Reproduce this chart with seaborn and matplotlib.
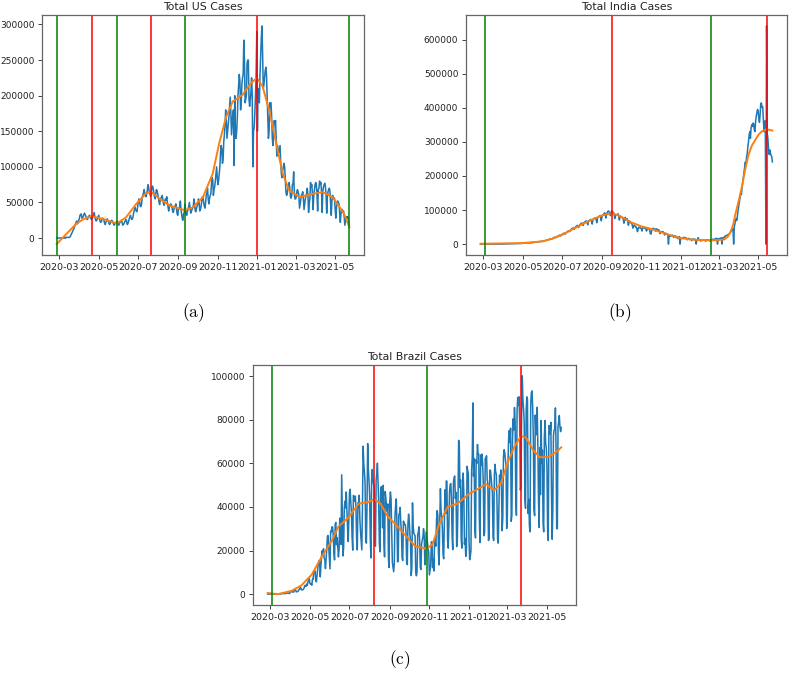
import numpy as np
import pandas as pd
import matplotlib
matplotlib.use('Agg')
import matplotlib.pyplot as plt
import seaborn as sns

start_date = '2020-02-26'

# daily new cases (thousands), one row per week starting Wednesday
us_weeks = [
    [0, 0, 0, 0, 0, 0, 0], [0, 0, 0, 0, 0, 0, 1], [0, 1, 1, 1, 1, 1, 1],
    [2, 4, 6, 8, 10, 12, 14], [17, 19, 22, 24, 20, 21, 25], [27, 32, 33, 34, 28, 29, 30],
    [33, 35, 33, 31, 28, 26, 27], [30, 31, 32, 29, 27, 26, 28], [30, 33, 36, 30, 26, 24, 25],
    [28, 30, 32, 27, 24, 22, 23], [26, 28, 27, 25, 21, 19, 22], [25, 27, 25, 23, 20, 19, 21],
    [24, 25, 24, 22, 19, 18, 20], [21, 22, 24, 23, 19, 18, 21], [22, 23, 25, 22, 18, 19, 20],
    [23, 24, 26, 24, 19, 20, 23], [27, 29, 32, 28, 26, 27, 30], [36, 39, 43, 40, 38, 37, 44],
    [50, 55, 52, 45, 44, 47, 56], [60, 63, 68, 63, 60, 58, 62], [67, 75, 72, 65, 62, 59, 63],
    [70, 73, 70, 64, 58, 55, 62], [68, 67, 62, 58, 51, 47, 53], [56, 58, 60, 54, 48, 46, 52],
    [55, 53, 58, 50, 44, 38, 44], [46, 48, 47, 44, 38, 36, 40], [44, 45, 48, 42, 34, 32, 40],
    [42, 44, 52, 40, 33, 27, 25], [34, 36, 48, 40, 33, 32, 38], [40, 45, 50, 43, 35, 37, 40],
    [42, 45, 55, 48, 38, 37, 42], [45, 48, 55, 50, 38, 40, 44], [52, 58, 58, 50, 45, 42, 50],
    [60, 64, 70, 55, 48, 55, 60], [62, 75, 85, 82, 60, 68, 72], [80, 90, 100, 85, 75, 80, 90],
    [100, 120, 130, 125, 105, 110, 135], [145, 160, 180, 165, 140, 150, 160],
    [170, 185, 198, 175, 145, 160, 175], [180, 102, 200, 150, 140, 150, 170],
    [200, 215, 230, 220, 180, 190, 215], [225, 230, 278, 250, 190, 195, 200],
    [245, 250, 250, 195, 185, 195, 205], [225, 200, 100, 150, 155, 175, 200],
    [230, 290, 150, 210, 200, 190, 230], [255, 280, 298, 260, 210, 215, 225],
    [235, 240, 230, 200, 175, 140, 150], [190, 190, 190, 170, 140, 130, 150],
    [165, 160, 165, 140, 115, 130, 120], [120, 125, 130, 105, 90, 85, 95],
    [100, 105, 100, 85, 65, 60, 62], [70, 72, 78, 70, 58, 56, 60], [75, 77, 93, 62, 55, 55, 58],
    [66, 68, 64, 60, 42, 48, 55], [60, 62, 65, 55, 40, 48, 55], [60, 62, 70, 60, 36, 48, 55],
    [78, 72, 75, 60, 40, 60, 68], [75, 78, 75, 60, 38, 68, 70], [80, 76, 78, 65, 36, 66, 72],
    [75, 77, 72, 60, 35, 58, 65], [68, 70, 66, 50, 32, 52, 60], [58, 55, 56, 42, 28, 42, 50],
    [52, 50, 48, 35, 22, 34, 40], [40, 36, 38, 30, 18, 24, 30], [30, 28, 30, 22, 18],
]

india_weeks = [
    [0, 0, 0, 0, 0, 0, 0], [0, 0, 0, 0, 0, 0, 0], [0, 0, 0, 0, 0, 0, 0], [0, 0, 0, 0, 0, 0, 0],
    [0, 0, 0, 0.1, 0.1, 0.2, 0.2], [0.4, 0.4, 0.5, 0.6, 0.5, 0.7, 0.5],
    [0.8, 0.9, 0.9, 1.0, 0.9, 1.2, 1.1], [1.1, 1.0, 1.2, 1.3, 1.4, 1.5, 1.4],
    [1.5, 1.6, 1.7, 1.8, 1.9, 1.6, 1.8], [1.9, 2.0, 2.3, 2.4, 2.6, 3.0, 3.9],
    [3.5, 3.4, 3.3, 3.3, 4.2, 3.6, 3.5], [3.7, 3.9, 3.9, 4.9, 5.0, 5.2, 4.9],
    [5.7, 6.0, 6.5, 6.7, 6.9, 6.5, 6.4], [7.1, 7.4, 8.0, 8.4, 8.8, 8.0, 8.2],
    [9.3, 9.8, 10.2, 10.9, 11.3, 11.0, 11.5], [12.9, 13.3, 14.5, 15.0, 15.4, 14.2, 15.9],
    [16.8, 18.4, 19.5, 20.0, 20.2, 19.1, 20.8], [22.4, 23.6, 24.8, 26.1, 25.5, 24.0, 26.6],
    [28.1, 29.4, 30.5, 32.1, 31.8, 29.2, 32.4], [34.0, 35.6, 37.1, 38.9, 39.2, 36.5, 40.0],
    [42.6, 44.5, 45.8, 47.2, 46.8, 43.1, 48.3], [50.1, 52.3, 53.6, 54.9, 53.5, 49.0, 55.4],
    [57.2, 58.7, 60.9, 62.0, 60.5, 54.8, 62.3], [64.1, 65.8, 66.9, 68.1, 64.3, 56.6, 67.0],
    [69.3, 70.2, 71.6, 72.4, 66.9, 58.8, 70.9], [74.2, 75.3, 76.8, 77.4, 71.5, 62.7, 74.8],
    [78.2, 80.1, 82.5, 83.6, 78.9, 68.4, 79.7], [84.9, 86.2, 88.3, 91.7, 89.2, 76.3, 87.5],
    [92.3, 95.2, 97.6, 94.4, 93.1, 83.8, 90.1], [97.9, 96.4, 93.3, 92.6, 86.9, 75.1, 83.3],
    [86.5, 86.1, 85.4, 89.0, 82.2, 70.6, 80.5], [81.8, 79.5, 78.5, 75.8, 74.4, 61.3, 72.0],
    [78.5, 70.5, 73.3, 74.4, 66.7, 55.3, 63.5], [67.7, 63.4, 62.2, 61.9, 55.7, 46.8, 54.0],
    [55.8, 53.4, 50.1, 50.1, 45.1, 36.5, 43.9], [49.9, 48.6, 48.3, 46.9, 45.2, 38.3, 46.2],
    [50.2, 47.6, 50.4, 45.7, 45.9, 38.1, 44.3], [47.9, 44.9, 44.7, 41.1, 30.5, 29.2, 38.6],
    [45.6, 45.9, 46.2, 45.2, 44.1, 37.9, 44.4], [44.5, 43.1, 41.3, 41.8, 38.8, 31.1, 36.6],
    [35.6, 36.6, 36.7, 36.0, 32.9, 26.6, 32.1], [31.5, 30.0, 30.2, 27.1, 0, 22.1, 26.4],
    [24.0, 22.9, 25.1, 26.6, 24.3, 19.6, 23.9], [24.7, 23.1, 18.7, 22.3, 19.0, 16.1, 20.5],
    [21.8, 0, 19.1, 18.2, 16.5, 16.4, 18.1], [20.3, 18.1, 18.2, 18.6, 16.3, 12.6, 15.9],
    [16.9, 15.6, 15.2, 15.1, 13.8, 10.1, 13.8], [15.2, 14.5, 14.3, 14.3, 13.2, 0, 12.7],
    [11.7, 18.9, 13.1, 13.0, 11.4, 8.6, 11.0], [12.9, 12.4, 12.1, 11.7, 12.1, 9.1, 9.1],
    [12.9, 11.0, 12.2, 12.1, 11.6, 9.1, 11.6], [12.9, 13.2, 14.0, 13.9, 14.3, 10.6, 13.7],
    [16.7, 16.6, 16.5, 0, 15.5, 12.3, 15.0], [17.4, 16.8, 18.3, 0, 18.6, 15.4, 17.9],
    [22.9, 23.3, 24.9, 25.3, 26.3, 24.5, 28.9], [30, 32, 35, 38, 42, 40, 45],
    [0, 50, 60, 68, 75, 70, 85], [100, 112, 125, 138, 150, 145, 165],
    [180, 195, 210, 225, 240, 230, 255], [265, 285, 300, 320, 330, 310, 340],
    [350, 345, 355, 352, 335, 330, 360], [375, 385, 395, 390, 368, 357, 380],
    [412, 414, 401, 403, 366, 330, 348], [362, 0, 640, 326, 311, 281, 263],
    [276, 267, 260, 257, 241],
]

brazil_weeks = [
    [0, 0, 0, 0, 0, 0, 0], [0, 0, 0, 0, 0, 0, 0], [0, 0, 0, 0.1, 0.1, 0.1, 0.1],
    [0.1, 0.2, 0.3, 0.2, 0.2, 0.3, 0.3], [0.2, 0.5, 0.4, 0.5, 0.4, 0.3, 0.3],
    [1.1, 1.1, 1.1, 1.2, 0.9, 0.9, 1.7], [2.2, 1.9, 1.0, 1.1, 1.2, 1.3, 2.0],
    [2.1, 3.1, 2.9, 2.0, 1.9, 1.9, 2.3], [2.7, 3.8, 4.0, 3.5, 4.6, 4.0, 5.4],
    [6.3, 7.2, 5.0, 4.6, 4.7, 4.1, 6.8], [6.8, 10.5, 10.2, 10.6, 6.6, 5.6, 8.6],
    [11.4, 13.9, 15.3, 14.9, 7.9, 13.1, 17.4], [19.9, 18.5, 20.8, 16.5, 15.8, 11.7, 16.3],
    [20.6, 26.4, 26.9, 21.7, 16.4, 11.6, 28.9], [28.6, 30.9, 30.8, 27.1, 18.9, 15.7, 32.1],
    [32.9, 22.7, 25.9, 21.7, 17.1, 20.6, 34.9], [32.2, 22.8, 54.8, 34.7, 17.5, 21.4, 39.4],
    [42.7, 39.5, 46.9, 38.7, 30.5, 24.1, 33.8], [46.7, 48.1, 42.2, 37.9, 26.1, 20.2, 45.3],
    [44.6, 42.6, 45.0, 39.0, 24.8, 20.3, 41.9], [39.9, 45.4, 34.2, 28.5, 24.6, 20.3, 41.0],
    [67.9, 59.9, 55.9, 51.1, 24.6, 23.4, 40.8], [69.1, 57.8, 52.4, 45.4, 25.8, 16.6, 51.6],
    [57.2, 53.1, 50.2, 49.9, 23.0, 22.0, 52.2], [55.2, 60.1, 50.6, 41.6, 23.1, 19.4, 47.8],
    [49.3, 45.3, 30.4, 50.0, 23.4, 17.1, 47.1], [44.2, 40.0, 38.0, 41.4, 16.2, 12.2, 42.7],
    [46.9, 43.8, 30.2, 14.5, 12.4, 10.3, 14.3], [35.8, 40.6, 43.7, 33.5, 14.8, 15.1, 36.6],
    [36.8, 39.8, 32.5, 28.6, 16.4, 15.4, 33.5], [32.8, 31.9, 31.9, 28.4, 14.3, 13.5, 32.1],
    [36.7, 33.4, 27.7, 24.6, 8.5, 11.8, 41.9], [31.6, 27.9, 27.4, 26.7, 10.0, 8.4, 10.2],
    [27.2, 28.5, 30.9, 24.1, 12.3, 11.3, 23.2], [24.8, 26.1, 30.0, 26.9, 13.5, 15.7, 28.6],
    [26.1, 24.0, 21.0, 18.9, 8.8, 10.9, 13.1], [23.9, 24.1, 12.1, 16.2, 10.6, 25.2, 23.9],
    [22.0, 33.9, 38.3, 36.1, 18.6, 13.4, 34.0], [48.4, 38.3, 35.0, 30.1, 18.6, 16.2, 31.1],
    [47.9, 37.0, 52.0, 51.8, 24.4, 21.1, 31.9], [46.9, 50.4, 50.7, 43.6, 26.4, 20.4, 51.1],
    [53.5, 54.2, 43.9, 46.7, 21.8, 24.2, 42.1], [70.6, 69.8, 48.9, 52.5, 25.0, 21.1, 48.5],
    [55.6, 46.6, 22.9, 25.6, 17.3, 20.5, 58.7], [56.8, 55.3, 24.6, 15.8, 17.3, 20.0, 56.6],
    [63.0, 87.8, 54.1, 62.1, 29.8, 25.8, 61.8], [60.0, 68.7, 64.5, 64.3, 33.0, 23.7, 63.9],
    [59.1, 64.3, 60.1, 50.6, 26.8, 28.3, 62.3], [61.9, 63.5, 52.7, 50.6, 24.6, 25.8, 56.9],
    [56.9, 53.9, 50.0, 46.3, 26.1, 24.6, 54.2], [59.6, 56.2, 55.0, 43.4, 25.2, 23.4, 37.9],
    [54.6, 51.9, 57.0, 48.5, 29.1, 35.0, 62.5], [66.3, 65.0, 61.8, 59.3, 30.1, 35.7, 59.9],
    [71.7, 75.1, 69.6, 76.2, 33.4, 36.2, 70.8], [80.5, 75.4, 85.7, 79.1, 43.8, 36.2, 83.9],
    [90.3, 86.9, 90.6, 79.1, 47.8, 49.3, 82.5], [100.2, 89.2, 85.0, 78.8, 44.3, 39.4, 84.5],
    [90.6, 89.5, 37.0, 43.5, 31.4, 28.6, 86.9], [92.6, 93.3, 85.8, 71.8, 38.9, 36.0, 82.2],
    [74.0, 73.2, 85.8, 67.6, 42.9, 30.6, 67.3], [45.7, 79.7, 60.1, 66.1, 32.6, 28.6, 72.1],
    [79.7, 69.4, 67.0, 58.4, 28.9, 24.6, 77.4], [77.0, 73.4, 78.9, 46.1, 25.2, 37.9, 72.7],
    [75.4, 75.6, 85.5, 67.0, 30.1, 30.0, 76.7], [79.1, 82.0, 77.0, 74.6, 76.5],
]

# smoothed trend (thousands)
us_trend_dates = ['2020-02-26', '2020-03-12', '2020-03-27', '2020-04-08', '2020-04-20',
                  '2020-05-07', '2020-05-29', '2020-06-12', '2020-06-28', '2020-07-13',
                  '2020-07-21', '2020-08-03', '2020-08-18', '2020-09-11', '2020-09-23',
                  '2020-10-09', '2020-10-24', '2020-11-03', '2020-11-14', '2020-11-24',
                  '2020-12-09', '2020-12-20', '2020-12-31', '2021-01-09', '2021-01-19',
                  '2021-01-30', '2021-02-09', '2021-02-19', '2021-03-07', '2021-03-27',
                  '2021-04-12', '2021-04-27', '2021-05-13', '2021-05-18', '2021-05-23']
us_trend = [-8.5, 5.7, 19.8, 27, 30.5, 27, 20.5, 29, 48, 63, 64.6, 55, 45.8, 39, 43,
            57.5, 90.6, 133, 171, 192, 201, 215.6, 225, 213, 180, 133, 90.6, 67, 57.5,
            62, 64.6, 57.5, 37, 27, 15]

india_trend_dates = ['2020-02-26', '2020-05-01', '2020-06-01', '2020-06-16', '2020-07-01',
                     '2020-07-16', '2020-08-01', '2020-08-16', '2020-09-01', '2020-09-17',
                     '2020-10-01', '2020-10-16', '2020-11-01', '2020-11-17', '2020-12-08',
                     '2020-12-28', '2021-01-18', '2021-02-17', '2021-03-01', '2021-03-10',
                     '2021-03-15', '2021-03-19', '2021-03-23', '2021-03-27', '2021-04-01',
                     '2021-04-06', '2021-04-11', '2021-04-16', '2021-04-21', '2021-04-27',
                     '2021-05-02', '2021-05-07', '2021-05-14', '2021-05-23']
india_trend = [1, 3, 8, 16, 27, 42, 58, 71, 84, 91, 80, 64, 52, 44, 31, 19, 13, 11, 12, 14,
               22, 35, 55, 90, 128, 170, 220, 262, 288, 307, 322, 331, 337, 333]

brazil_trend_dates = ['2020-02-26', '2020-03-13', '2020-04-03', '2020-04-18', '2020-05-04',
                      '2020-05-19', '2020-06-04', '2020-06-14', '2020-06-29', '2020-07-15',
                      '2020-07-30', '2020-08-08', '2020-08-18', '2020-08-28', '2020-09-10',
                      '2020-09-25', '2020-10-10', '2020-10-28', '2020-11-06', '2020-11-16',
                      '2020-11-29', '2020-12-14', '2021-01-01', '2021-01-22', '2021-01-27',
                      '2021-02-09', '2021-02-19', '2021-03-02', '2021-03-12', '2021-03-22',
                      '2021-03-30', '2021-04-10', '2021-04-20', '2021-05-03', '2021-05-16',
                      '2021-05-23']
brazil_trend = [0.5, 0, 1.5, 4, 9, 17, 24.6, 31, 35, 41.5, 42.3, 43.5, 41.5, 36, 32, 27, 22,
                20.8, 23, 32, 40, 41.5, 46, 49.5, 50.5, 47.7, 50.8, 60.8, 67.7, 72.6, 71.8,
                66, 62.8, 63, 65.4, 67.4]

# detected wave boundaries
us_troughs = ['2020-02-26', '2020-05-29', '2020-09-11', '2021-05-23']
us_peaks = ['2020-04-20', '2020-07-21', '2020-12-31']
india_troughs = ['2020-03-04', '2021-02-17']
india_peaks = ['2020-09-17', '2021-05-14']
brazil_troughs = ['2020-03-03', '2020-10-28']
brazil_peaks = ['2020-08-08', '2021-03-22']


def draw(ax, weeks, trend_dates, trend, troughs, peaks, title):
    daily = np.concatenate(weeks) * 1000
    dates = pd.date_range(start_date, periods=len(daily), freq='D')
    sns.lineplot(x=dates, y=daily, ax=ax, color='#1f77b4', linewidth=1.1, estimator=None)
    sns.lineplot(x=pd.to_datetime(trend_dates), y=np.array(trend) * 1000, ax=ax,
                 color='#ff7f0e', linewidth=1.4, estimator=None)
    for d in troughs:
        ax.axvline(pd.Timestamp(d), color='green', linewidth=1.1)
    for d in peaks:
        ax.axvline(pd.Timestamp(d), color='red', linewidth=1.1)
    ax.set_xlabel('')
    ax.set_ylabel('')
    ax.set_title(title, fontsize=7.8, pad=3.5, color='#222222')
    ax.tick_params(length=3, width=0.6, colors='#222222', pad=2.5)
    ax.tick_params(axis='x', labelsize=6.8)
    ax.tick_params(axis='y', labelsize=6.5)
    for s in ax.spines.values():
        s.set_color('#666666')
        s.set_linewidth(0.9)


plt.rcParams['mathtext.fontset'] = 'cm'
fig = plt.figure(figsize=(7.91, 6.75), dpi=100)
ax1 = fig.add_axes([0.0531, 0.6222, 0.4071, 0.3556])
ax2 = fig.add_axes([0.5891, 0.6222, 0.4058, 0.3556])
ax3 = fig.add_axes([0.3198, 0.1037, 0.4083, 0.3556])

draw(ax1, us_weeks, us_trend_dates, us_trend, us_troughs, us_peaks, 'Total US Cases')
draw(ax2, india_weeks, india_trend_dates, india_trend, india_troughs, india_peaks, 'Total India Cases')
draw(ax3, brazil_weeks, brazil_trend_dates, brazil_trend, brazil_troughs, brazil_peaks, 'Total Brazil Cases')

fig.text(193.7 / 791, 1 - 313 / 675, r'$\mathrm{(a)}$', fontsize=12.5, ha='center', va='center')
fig.text(620 / 791, 1 - 313 / 675, r'$\mathrm{(b)}$', fontsize=12.5, ha='center', va='center')
fig.text(400 / 791, 1 - 660 / 675, r'$\mathrm{(c)}$', fontsize=12.5, ha='center', va='center')

fig.savefig('out.png', dpi=100)
